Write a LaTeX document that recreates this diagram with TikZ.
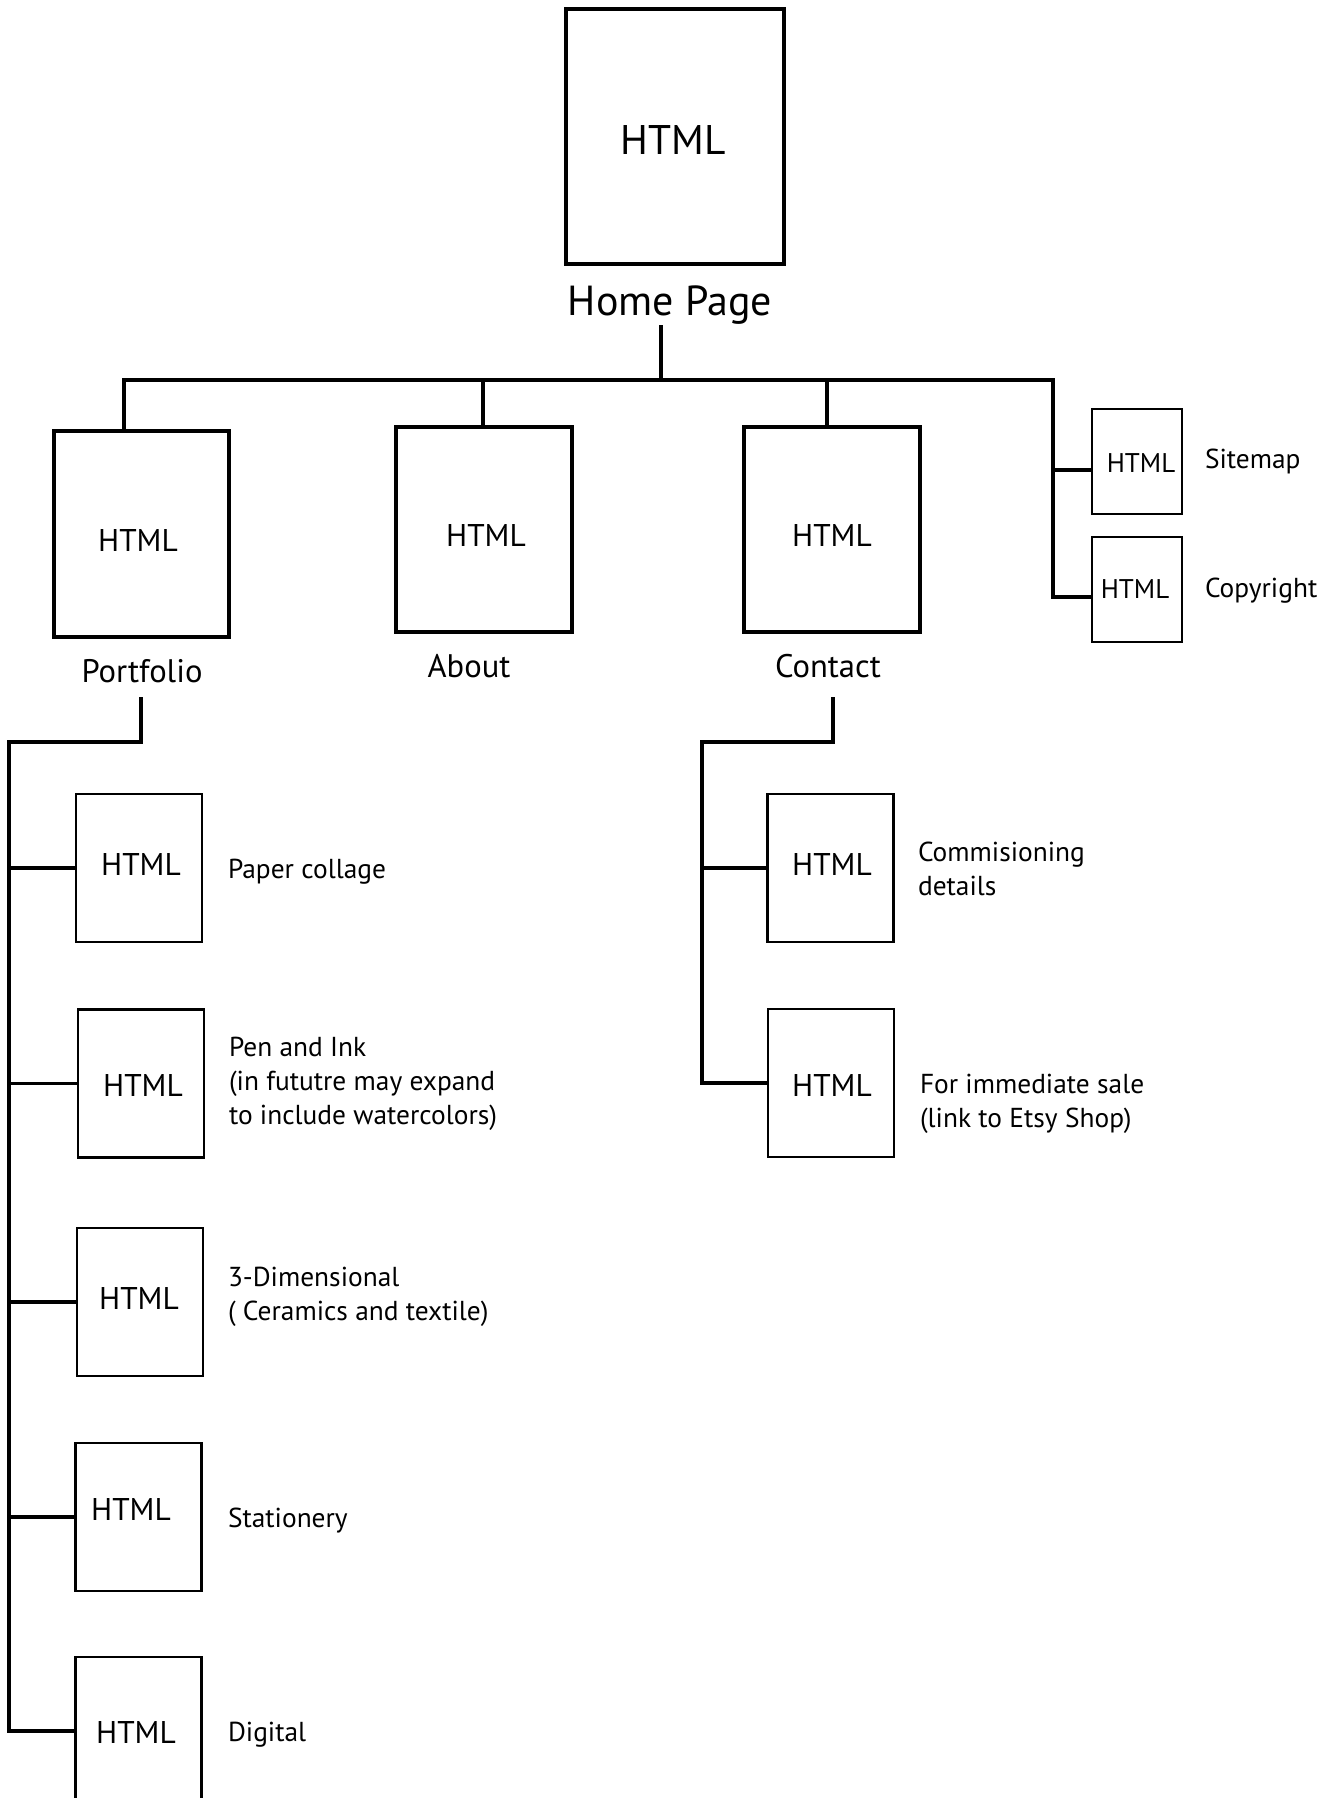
\documentclass[tikz,border=0pt]{standalone}
\usepackage{fontspec}
\setmainfont{PT Sans}
\begin{document}
\begin{tikzpicture}[x=0.5pt,y=-0.5pt,
  every node/.style={inner sep=0pt, outer sep=0pt},
  homebox/.style={draw, line width=2.2pt, minimum width=109pt, minimum height=127.5pt},
  midbox/.style={draw, line width=1.6pt, minimum width=88pt, minimum height=102.5pt},
  smallbox/.style={draw, line width=1.1pt, minimum width=45pt, minimum height=52.5pt},
  subbox/.style={draw, line width=1.1pt, minimum width=63pt, minimum height=74pt},
  conn/.style={line width=1.7pt, line join=miter},
  htmlbig/.style={anchor=base, font=\fontsize{20.7}{24}\selectfont},
  htmlmid/.style={anchor=base, font=\fontsize{15.7}{19}\selectfont},
  htmlsmall/.style={anchor=base, font=\fontsize{13.5}{16}\selectfont},
  homelbl/.style={anchor=base, font=\fontsize{21}{25}\selectfont},
  midlbl/.style={anchor=base, font=\fontsize{16.3}{19}\selectfont},
  desc/.style={anchor=base west, align=left, font=\fontsize{13.7}{16.8}\selectfont}
]
\useasboundingbox (0,0) rectangle (1340,1798);
\clip (0,0) rectangle (1340,1798);
\fill[white] (0,0) rectangle (1340,1798);

% Home
\node[homebox] (home) at (675,136.5) {};
\node[htmlbig] (homet) at (673,155) {HTML};
\node[homelbl] (homel) at (670,315) {Home Page};

% level 1
\node[midbox, minimum width=87.5pt, minimum height=103pt] (port) at (141.5,534) {};
\node[htmlmid] at (138,551) {HTML};
\node[midlbl] (portl) at (142,682) {Portfolio};

\node[midbox] (about) at (484,529.5) {};
\node[htmlmid] at (486,546) {HTML};
\node[midlbl] (aboutl) at (469,677) {About};

\node[midbox] (contact) at (832,529.5) {};
\node[htmlmid] at (832,546) {HTML};
\node[midlbl] (contactl) at (828,677) {Contact};

\node[smallbox] (site) at (1137,461.5) {};
\node[htmlsmall] at (1141,472) {HTML};
\node[desc] (sitel) at (1205,468) {Sitemap};

\node[smallbox] (copy) at (1137,589.5) {};
\node[htmlsmall] at (1135,598) {HTML};
\node[desc] (copyl) at (1205,597) {Copyright};

% Portfolio children
\node[subbox] (pc) at (139,868) {};
\node[htmlmid] at (141,875) {HTML};
\node[desc] at (228,878) {Paper collage};

\node[subbox] (pen) at (141,1083.5) {};
\node[htmlmid] at (143,1096) {HTML};
\node[desc] at (229,1124) {Pen and Ink\\(in fututre may expand\\to include watercolors)};

\node[subbox] (dim) at (140,1302) {};
\node[htmlmid] at (139,1309) {HTML};
\node[desc] at (228,1320) {3-Dimensional\\( Ceramics and textile)};

\node[subbox] (stat) at (138.5,1517) {};
\node[htmlmid] at (131,1520) {HTML};
\node[desc] at (228,1527) {Stationery};

\node[subbox] (dig) at (138.5,1731) {};
\node[htmlmid] at (136,1743) {HTML};
\node[desc] at (228,1741) {Digital};

% Contact children
\node[subbox] (com) at (830.5,868) {};
\node[htmlmid] at (832,875) {HTML};
\node[desc] at (918,895) {Commisioning\\details};

\node[subbox] (etsy) at (831,1083) {};
\node[htmlmid] at (832,1096) {HTML};
\node[desc] at (920,1127) {For immediate sale\\(link to Etsy Shop)};

% junction coordinates
\coordinate (hpS) at (661,325);
\coordinate (busL) at (124,380);
\coordinate (busR) at (1053,380);
\coordinate (siteJ) at (1053,470);
\coordinate (copyJ) at (1053,597);
\coordinate (portS) at (141,697);
\coordinate (portSp) at (9,742);
\coordinate (contS) at (833,697);
\coordinate (contSp) at (702,742);

% connectors
\draw[conn] (hpS) -- (hpS |- busL);
\draw[conn] (port.north -| busL) -- (busL) -- (busR) -- (copyJ) -- (copyJ -| copy.west);
\draw[conn] (siteJ) -- (siteJ -| site.west);
\draw[conn] (about.north -| 483,0) -- (483,380);
\draw[conn] (contact.north -| 827,0) -- (827,380);

\draw[conn] (portS) -- (portS |- portSp) -- (portSp) |- (dig.west);
\draw[conn] (portSp |- pc.west) -- (pc.west);
\draw[conn] (portSp |- pen.west) -- (pen.west);
\draw[conn] (portSp |- dim.west) -- (dim.west);
\draw[conn] (portSp |- stat.west) -- (stat.west);

\draw[conn] (contS) -- (contS |- contSp) -- (contSp) |- (etsy.west);
\draw[conn] (contSp |- com.west) -- (com.west);
\end{tikzpicture}
\end{document}
